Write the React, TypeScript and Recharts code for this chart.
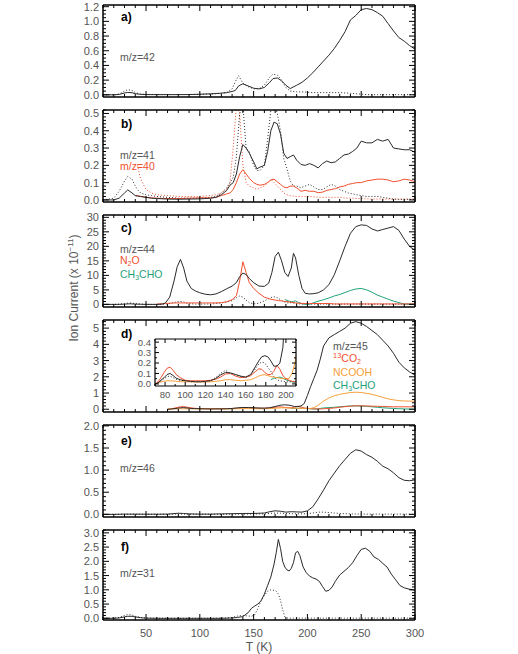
import React from 'react';
import { LineChart, Line, XAxis, YAxis } from 'recharts';

// ---------------- data ----------------
const T_A = [10,20,25,30,33,37,40,45,50,60,70,80,90,100,110,120,125,130,133,136,140,145,150,155,160,165,168,172,176,180,184,190,195,200,205,210,215,220,225,230,235,240,245,250,255,260,265,270,275,280,285,290,295,300];
const A_MZ42 = [0,0,0.005,0.025,0.032,0.028,0.015,0.006,0.003,0.002,0.002,0.002,0.003,0.008,0.013,0.022,0.03,0.045,0.06,0.12,0.15,0.12,0.09,0.08,0.1,0.17,0.22,0.23,0.19,0.13,0.085,0.13,0.17,0.23,0.3,0.38,0.46,0.54,0.63,0.74,0.86,1.02,1.08,1.16,1.175,1.16,1.12,1.07,0.97,0.87,0.78,0.73,0.67,0.62];
const A_MZ42_DOT = [0,0,0.01,0.05,0.07,0.06,0.03,0.01,0.005,0.004,0.004,0.004,0.004,0.005,0.01,0.02,0.03,0.08,0.18,0.26,0.16,0.11,0.08,0.085,0.13,0.24,0.28,0.27,0.2,0.1,0.05,0.04,0.04,0.035,0.03,0.03,0.03,0.03,0.03,0.03,0.025,0.02,0.015,0.008,0.003,0.002,0.002,0.002,0.002,0.002,0.002,0.002,0.002,0.002];

const T_B = [10,20,25,30,33,37,40,42,45,50,55,60,70,80,90,100,110,115,120,125,128,131,134,137,140,143,146,150,153,156,160,163,166,169,172,175,178,181,184,187,190,194,198,202,206,210,214,218,222,226,230,234,238,242,246,250,255,260,265,270,275,280,285,290,295,300];
const B_MZ41 = [0,0,0.01,0.04,0.058,0.04,0.025,0.022,0.02,0.015,0.01,0.008,0.005,0.004,0.005,0.006,0.01,0.015,0.03,0.055,0.085,0.1,0.15,0.25,0.32,0.3,0.27,0.22,0.18,0.19,0.2,0.28,0.4,0.45,0.44,0.38,0.27,0.24,0.25,0.26,0.23,0.205,0.2,0.21,0.2,0.185,0.21,0.225,0.215,0.22,0.24,0.26,0.265,0.28,0.3,0.34,0.33,0.33,0.35,0.34,0.35,0.3,0.295,0.29,0.29,0.275];
const B_MZ41_DOT = [0,0.01,0.05,0.11,0.135,0.12,0.08,0.06,0.04,0.03,0.025,0.02,0.015,0.01,0.01,0.01,0.015,0.02,0.04,0.07,0.1,0.13,0.25,0.5,0.55,0.3,0.28,0.2,0.17,0.17,0.2,0.35,0.52,0.56,0.5,0.4,0.24,0.18,0.11,0.08,0.08,0.07,0.08,0.09,0.075,0.06,0.06,0.075,0.09,0.08,0.06,0.05,0.04,0.035,0.03,0.025,0.02,0.02,0.02,0.015,0.01,0.005,0.003,0.003,0.003,0.003];
const B_MZ40 = [null,null,null,null,null,null,0.025,0.025,0.02,0.015,0.012,0.01,0.008,0.008,0.01,0.012,0.012,0.015,0.025,0.035,0.04,0.06,0.1,0.15,0.175,0.15,0.125,0.1,0.09,0.085,0.09,0.1,0.115,0.12,0.105,0.09,0.075,0.07,0.08,0.08,0.07,0.05,0.055,0.05,0.05,0.042,0.045,0.055,0.06,0.065,0.075,0.08,0.09,0.095,0.1,0.1,0.11,0.115,0.12,0.12,0.115,0.105,0.11,0.12,0.115,0.105];
const B_MZ40_DOT = [null,null,null,null,null,null,null,0.2,0.12,0.06,0.04,0.03,0.025,0.02,0.02,0.02,0.025,0.03,0.04,0.06,0.1,0.3,0.55,0.5,0.2,0.1,0.08,0.07,0.06,0.07,0.08,0.1,0.12,0.1,0.08,0.06,0.04,0.03,0.025,0.022,0.02,0.02,0.02,0.02,0.018,0.016,0.015,0.015,0.015,0.015,0.015,0.012,0.01,0.01,0.008,0.008,0.006,0.005,0.005,0.005,0.005,0.005,0.005,0.005,0.005,0.005];

const T_C = [10,20,25,30,35,40,45,50,60,65,68,72,76,79,82,85,88,92,96,100,105,110,115,120,125,130,134,137,140,143,146,150,155,160,164,167,170,173,176,179,182,185,187,189,192,195,198,202,206,210,215,220,225,230,235,240,245,250,255,260,265,270,275,280,285,290,295,300];
const C_MZ44 = [0,0,0,0.1,0.2,0.1,0.05,0,0,0.1,0.5,2.5,8,13,15.5,12.5,8,5.5,4.6,4,3.5,3.3,3.6,4.4,5.4,6.3,7.5,9.5,10.8,10.3,8.9,7.5,6.3,6.2,7.3,11,16.5,18,15,11,9.6,12.5,17.6,16,10,5.5,3.8,3.6,3.7,4,5,6.8,10.2,15,20,24.5,26.8,27.4,27.2,26,25.3,25.8,26.3,26.8,25.5,22.5,20,18.5];
const C_MZ44_DOT = [0,0,0.1,0.3,0.5,0.3,0.1,0,0,0,0.1,0.3,0.6,0.9,1,0.8,0.4,0.2,0.1,0.1,0.1,0.15,0.3,0.5,0.8,1.3,2.3,2.9,2.5,1.5,0.6,0.15,0.4,1.2,2,2.5,2.6,2.1,1.3,0.8,0.5,0.6,0.5,0.3,0.2,0.1,0.1,0.1,0.1,0.1,0.1,0.1,0.1,0.1,0.1,0.1,0.1,0.1,0.1,0.1,0.1,0.1,0.1,0.1,0.1,0.1,0.1,0.1];
const C_N2O = [null,null,null,null,null,null,null,null,0.1,0.2,0.3,0.4,0.5,0.5,0.5,0.5,0.5,0.5,0.5,0.5,0.5,0.5,0.5,0.6,0.9,1.6,3,8,14.7,11,7.5,5.5,3.8,2.5,2,1.7,1.5,1.3,1.2,1,0.9,0.7,0.6,0.5,0.4,0.35,0.3,0.3,0.3,0.3,0.3,0.3,0.15,0.15,0.15,0.15,0.15,0.15,0.15,0.15,0.15,0.15,0.15,0.15,0.15,0.15,0.15,0.15];
const C_CH3CHO = [null,null,null,null,null,null,null,null,null,null,null,null,null,null,null,null,null,null,null,null,null,null,null,null,null,null,null,null,null,null,null,null,null,null,null,null,null,null,null,1.7,1.2,0.9,1,1.2,0.6,0.2,0.05,0,0.6,1.1,1.6,2.2,2.9,3.4,4.1,4.8,5.3,5.5,5,4.2,3.2,2.5,1.8,1.15,0.6,0.1,0.1,0.1];

const T_D = [70,73,76,79,82,85,88,91,95,100,105,110,115,120,125,130,135,140,145,150,155,160,165,170,173,176,179,182,185,188,191,194,197,200,203,206,209,212,215,220,225,230,235,240,245,250,255,260,265,270,275,280,285,290,295,300];
const D_MZ45 = [0,0.01,0.035,0.06,0.09,0.1,0.08,0.055,0.04,0.03,0.025,0.02,0.02,0.025,0.03,0.05,0.085,0.11,0.105,0.09,0.075,0.065,0.09,0.17,0.22,0.26,0.27,0.26,0.22,0.17,0.17,0.2,0.35,0.85,1.4,1.9,2.4,3.1,3.9,4.4,4.6,4.8,5,5.3,5.4,5.3,5.1,4.85,4.6,4.25,3.9,3.45,2.9,2.55,2.3,2.1];
const D_MZ45_DOT = [0,0.01,0.03,0.05,0.07,0.075,0.06,0.045,0.035,0.03,0.02,0.02,0.02,0.02,0.03,0.06,0.1,0.13,0.1,0.08,0.07,0.06,0.08,0.15,0.19,0.21,0.2,0.16,0.12,0.07,0.04,0.03,0.025,0.02,0.02,0.02,0.02,0.02,0.02,0.02,0.02,0.02,0.02,0.02,0.015,0.01,0.01,0.01,0.01,0.01,0.01,0.01,0.01,0.01,0.01,0.01];
const D_13CO2 = [0,0.02,0.06,0.11,0.15,0.16,0.13,0.09,0.06,0.035,0.03,0.03,0.03,0.03,0.035,0.045,0.065,0.095,0.1,0.075,0.06,0.065,0.08,0.12,0.145,0.14,0.11,0.09,0.09,0.12,0.18,0.14,0.08,0.05,0.035,0.025,0.02,0.02,0.03,0.05,0.08,0.12,0.16,0.19,0.21,0.21,0.2,0.19,0.18,0.17,0.16,0.15,0.15,0.15,0.15,0.15];
const D_NCOOH = [0,0.01,0.02,0.025,0.03,0.03,0.028,0.025,0.022,0.02,0.02,0.02,0.02,0.02,0.02,0.025,0.03,0.04,0.04,0.035,0.03,0.035,0.04,0.06,0.075,0.085,0.087,0.08,0.07,0.065,0.06,0.055,0.05,0.05,0.05,0.1,0.2,0.35,0.5,0.7,0.83,0.92,0.98,1.03,1.05,1.03,0.98,0.92,0.83,0.73,0.64,0.58,0.53,0.51,0.5,0.5];
const D_CH3CHO = [null,null,null,null,null,null,null,null,null,null,null,null,null,null,null,null,null,null,null,null,null,null,null,null,null,null,null,null,0.04,0.055,0.06,0.065,0.055,0.04,0.03,0.02,0.015,0.05,0.08,0.1,0.12,0.15,0.18,0.2,0.21,0.2,0.18,0.15,0.12,0.09,0.07,0.05,0.03,0.02,0.01,0];

const T_E = [10,20,30,40,50,60,70,75,80,85,90,100,110,120,130,140,150,160,165,170,175,180,185,190,195,200,205,210,215,220,225,230,235,240,245,250,255,260,265,270,275,280,285,290,295,300];
const E_MZ46 = [0,0,0.005,0.005,0.003,0.003,0.005,0.015,0.025,0.02,0.01,0.005,0.005,0.01,0.015,0.02,0.02,0.03,0.06,0.08,0.07,0.05,0.06,0.055,0.05,0.08,0.17,0.35,0.55,0.76,0.93,1.1,1.24,1.38,1.46,1.43,1.35,1.29,1.2,1.09,1.03,0.94,0.83,0.77,0.76,0.78];
const E_MZ46_DOT = [0,0,0.003,0.003,0.003,0.003,0.003,0.005,0.008,0.006,0.003,0.003,0.003,0.003,0.005,0.005,0.008,0.01,0.02,0.03,0.025,0.02,0.015,0.01,0.01,0.015,0.03,0.05,0.05,0.04,0.03,0.02,0.015,0.01,0.008,0.005,0.005,0.005,0.005,0.005,0.005,0.005,0.005,0.005,0.005,0.005];

const T_F = [10,20,25,30,33,37,40,45,50,60,80,100,120,130,135,140,145,148,151,154,157,160,163,166,169,171,173,175,177,179,181,183,185,187,189,191,193,196,199,202,205,208,211,214,217,220,223,226,230,234,238,242,246,250,254,258,262,266,270,274,278,282,286,290,295,300];
const F_MZ31 = [0,0,0.01,0.05,0.07,0.07,0.05,0.02,0.005,0,0,0,0,0.01,0.03,0.06,0.2,0.35,0.43,0.5,0.62,0.85,1.15,1.45,1.9,2.3,2.77,2.45,2,1.8,1.7,1.66,1.75,1.95,2.3,2.35,2.2,1.8,1.6,1.48,1.42,1.38,1.3,1.12,0.95,0.98,1.1,1.3,1.52,1.65,1.78,1.95,2.2,2.42,2.46,2.35,2.15,2.07,1.93,1.8,1.55,1.35,1.15,1.07,1.02,0.98];
const F_MZ31_DOT = [0,0.01,0.03,0.1,0.13,0.12,0.07,0.03,0.01,0,0,0,0,0.03,0.08,0.1,0.08,0.07,0.12,0.35,0.62,0.8,0.95,1,0.98,0.95,0.85,0.62,0.3,0.05,0.01,0.005,0.005,0.005,0.005,0.005,0.005,0.005,0.005,0.005,0.005,0.005,0.005,0.005,0.005,0.005,0.005,0.005,0.005,0.005,0.005,0.005,0.005,0.005,0.005,0.005,0.005,0.005,0.005,0.005,0.005,0.005,0.005,0.005,0.005,0.005];

const X_TICK_LABELS = [50, 100, 150, 200, 250, 300];
const INSET_X_TICK_LABELS = [80, 100, 120, 140, 160, 180, 200];

// ---------------- style ----------------
const W = 518;
const H = 654;
const FONT = '"Liberation Sans", Arial, sans-serif';
const BLACK = '#2a2a2a';
const RED = '#f0502e';
const GREEN = '#1fa27a';
const ORANGE = '#f7a03a';
const TXT = '#555';

type Series = { key: string; values: (number | null)[]; color: string; dotted?: boolean };

const isMult = (v: number, step: number) => Math.abs(v / step - Math.round(v / step)) < 1e-6;
const makeTicks = (d: [number, number], step: number) => {
  const out: number[] = [];
  for (let k = Math.ceil(d[0] / step - 1e-9); k * step <= d[1] + 1e-9; k++) out.push(Math.round(k * step * 1e6) / 1e6);
  return out;
};

type FrameProps = {
  left: number; right: number; top: number; bottom: number;
  T: number[]; series: Series[];
  xDomain: [number, number]; xMinor: number; xMajor: number; xLabels?: number[];
  yDomain: [number, number]; yMinor: number; yMajor: number; yDigits: number;
  font: number; majorLen: number; minorLen: number; frameWidth: number; xLabelGap: number;
};

const AX = 1; // thickness reserved for each axis

function Frame(p: FrameProps) {
  const mTop = 4;
  const mBot = p.xLabels ? 26 : 4;
  const plotH = p.bottom - p.top;
  const PT = mTop;
  const PB = mTop + plotH;
  const data = p.T.map((t, i) => {
    const r: any = { T: t };
    p.series.forEach((s) => { r[s.key] = s.values[i]; });
    return r;
  });
  const xTicks = makeTicks(p.xDomain, p.xMinor);
  const yTicks = makeTicks(p.yDomain, p.yMinor);
  const axisLine = { stroke: '#000', strokeWidth: p.frameWidth };
  const labelSet = new Set(p.xLabels || []);

  const bottomTick = (props: any) => {
    const { x, payload } = props;
    const v = payload.value;
    const mj = isMult(v, p.xMajor);
    return (
      <g>
        <line x1={x} x2={x} y1={PB} y2={PB - (mj ? p.majorLen : p.minorLen)} stroke="#000" strokeWidth={1} />
        {labelSet.has(v) && (
          <text x={x} y={PB + p.xLabelGap} textAnchor="middle" fontFamily={FONT} fontSize={p.font} fill={TXT}>{v}</text>
        )}
      </g>
    );
  };
  const topTick = (props: any) => {
    const { x, payload } = props;
    const mj = isMult(payload.value, p.xMajor);
    return <line x1={x} x2={x} y1={PT} y2={PT + (mj ? p.majorLen : p.minorLen)} stroke="#000" strokeWidth={1} />;
  };
  const leftTick = (props: any) => {
    const { y, payload } = props;
    const v = payload.value;
    const mj = isMult(v, p.yMajor);
    return (
      <g>
        <line x1={p.left} x2={p.left + (mj ? p.majorLen : p.minorLen)} y1={y} y2={y} stroke="#000" strokeWidth={1} />
        {mj && (
          <text x={p.left - 4} y={y} dy="0.36em" textAnchor="end" fontFamily={FONT} fontSize={p.font} fill={TXT}>{v.toFixed(p.yDigits)}</text>
        )}
      </g>
    );
  };
  const rightTick = (props: any) => {
    const { y, payload } = props;
    const mj = isMult(payload.value, p.yMajor);
    return <line x1={p.right} x2={p.right - (mj ? p.majorLen : p.minorLen)} y1={y} y2={y} stroke="#000" strokeWidth={1} />;
  };

  return (
    <div style={{ position: 'absolute', left: 0, top: p.top - mTop }}>
      <LineChart width={W} height={mTop + plotH + mBot} data={data}
        margin={{ top: mTop - AX, bottom: mBot - AX, left: p.left - AX, right: W - p.right - AX }}>
        <XAxis xAxisId="b" dataKey="T" type="number" domain={p.xDomain} ticks={xTicks} interval={0}
          height={AX} allowDataOverflow axisLine={axisLine} tickLine={false} tick={bottomTick} />
        <XAxis xAxisId="t" orientation="top" dataKey="T" type="number" domain={p.xDomain} ticks={xTicks} interval={0}
          height={AX} allowDataOverflow axisLine={axisLine} tickLine={false} tick={topTick} />
        <YAxis yAxisId="l" type="number" domain={p.yDomain} ticks={yTicks} interval={0}
          width={AX} allowDataOverflow axisLine={axisLine} tickLine={false} tick={leftTick} />
        <YAxis yAxisId="r" orientation="right" type="number" domain={p.yDomain} ticks={yTicks} interval={0}
          width={AX} allowDataOverflow axisLine={axisLine} tickLine={false} tick={rightTick} />
        {p.series.map((s) => (
          <Line key={s.key} xAxisId="b" yAxisId="l" type="linear" dataKey={s.key} stroke={s.color}
            strokeWidth={1} strokeDasharray={s.dotted ? '1 2' : undefined} dot={false}
            activeDot={false} connectNulls={false} isAnimationActive={false} />
        ))}
      </LineChart>
    </div>
  );
}

const MAIN = {
  left: 103, right: 415, xDomain: [10, 300] as [number, number], xMinor: 10, xMajor: 50,
  font: 11, majorLen: 6, minorLen: 3, frameWidth: 1.5, xLabelGap: 17,
};

const panels: (Omit<FrameProps, keyof typeof MAIN>)[] = [
  { top: 5, bottom: 97, T: T_A, yDomain: [-0.03, 1.223], yMinor: 0.05, yMajor: 0.2, yDigits: 1,
    series: [
      { key: 'a42', values: A_MZ42, color: BLACK },
      { key: 'a42d', values: A_MZ42_DOT, color: BLACK, dotted: true },
    ] },
  { top: 110, bottom: 202, T: T_B, yDomain: [-0.012, 0.52], yMinor: 0.02, yMajor: 0.1, yDigits: 1,
    series: [
      { key: 'b40d', values: B_MZ40_DOT, color: RED, dotted: true },
      { key: 'b41d', values: B_MZ41_DOT, color: BLACK, dotted: true },
      { key: 'b40', values: B_MZ40, color: RED },
      { key: 'b41', values: B_MZ41, color: BLACK },
    ] },
  { top: 215, bottom: 307, T: T_C, yDomain: [-0.9, 30.8], yMinor: 1, yMajor: 5, yDigits: 0,
    series: [
      { key: 'c44d', values: C_MZ44_DOT, color: BLACK, dotted: true },
      { key: 'cch', values: C_CH3CHO, color: GREEN },
      { key: 'cn2o', values: C_N2O, color: RED },
      { key: 'c44', values: C_MZ44, color: BLACK },
    ] },
  { top: 320, bottom: 412, T: T_D, yDomain: [-0.17, 5.5], yMinor: 0.2, yMajor: 1, yDigits: 0,
    series: [
      { key: 'dch', values: D_CH3CHO, color: GREEN },
      { key: 'd13', values: D_13CO2, color: RED },
      { key: 'dnc', values: D_NCOOH, color: ORANGE },
      { key: 'd45', values: D_MZ45, color: BLACK },
    ] },
  { top: 425, bottom: 517, T: T_E, yDomain: [-0.06, 2.02], yMinor: 0.1, yMajor: 0.5, yDigits: 1,
    series: [
      { key: 'e46d', values: E_MZ46_DOT, color: BLACK, dotted: true },
      { key: 'e46', values: E_MZ46, color: BLACK },
    ] },
  { top: 530, bottom: 620, T: T_F, yDomain: [-0.06, 3.1], yMinor: 0.1, yMajor: 0.5, yDigits: 1,
    xLabels: X_TICK_LABELS,
    series: [
      { key: 'f31d', values: F_MZ31_DOT, color: BLACK, dotted: true },
      { key: 'f31', values: F_MZ31, color: BLACK },
    ] },
];

export default function App() {
  const lbl = { fontFamily: FONT, fontSize: 10.5, fill: TXT } as const;
  const letter = { fontFamily: FONT, fontSize: 12, fontWeight: 700, fill: '#000' } as const;
  return (
    <div style={{ position: 'absolute', left: 0, top: 0, width: W, height: H, background: '#fff' }}>
      {panels.map((p, i) => <Frame key={i} {...MAIN} {...p} />)}
      <Frame left={155} right={296} top={339} bottom={386} T={T_D}
        xDomain={[70, 210]} xMinor={10} xMajor={20} xLabels={INSET_X_TICK_LABELS}
        yDomain={[-0.02, 0.43]} yMinor={0.05} yMajor={0.1} yDigits={1}
        font={9.5} majorLen={4} minorLen={2} frameWidth={1.2} xLabelGap={11.5}
        series={[
          { key: 'i45d', values: D_MZ45_DOT, color: BLACK, dotted: true },
          { key: 'ich', values: D_CH3CHO, color: GREEN },
          { key: 'inc', values: D_NCOOH, color: ORANGE },
          { key: 'i13', values: D_13CO2, color: RED },
          { key: 'i45', values: D_MZ45, color: BLACK },
        ]} />
      <svg width={W} height={H} style={{ position: 'absolute', left: 0, top: 0, pointerEvents: 'none' }}>
        <text x={121} y={21} {...letter}>a)</text>
        <text x={120} y={60.5} {...lbl}>m/z=42</text>

        <text x={121} y={127.5} {...letter}>b)</text>
        <text x={120} y={159} {...lbl}>m/z=41</text>
        <text x={120} y={169.5} {...lbl} fill={RED}>m/z=40</text>

        <text x={121} y={231.5} {...letter}>c)</text>
        <text x={120} y={253} {...lbl}>m/z=44</text>
        <text x={120} y={264} {...lbl} fill={RED}>N<tspan dy={2} fontSize={7}>2</tspan><tspan dy={-2}>O</tspan></text>
        <text x={120} y={277.5} {...lbl} fill={GREEN}>CH<tspan dy={2} fontSize={7}>3</tspan><tspan dy={-2}>CHO</tspan></text>

        <text x={121} y={337.5} {...letter}>d)</text>
        <text x={333} y={349.5} {...lbl}>m/z=45</text>
        <text x={333} y={362} {...lbl} fill={RED}><tspan dy={-4} fontSize={7.5}>13</tspan><tspan dy={4}>CO</tspan><tspan dy={2} fontSize={7}>2</tspan></text>
        <text x={333} y={375.5} {...lbl} fill={ORANGE}>NCOOH</text>
        <text x={333} y={389} {...lbl} fill={GREEN}>CH<tspan dy={2} fontSize={7}>3</tspan><tspan dy={-2}>CHO</tspan></text>

        <text x={121} y={445} {...letter}>e)</text>
        <text x={120} y={472} {...lbl}>m/z=46</text>

        <text x={121} y={550.5} {...letter}>f)</text>
        <text x={120} y={576.5} {...lbl}>m/z=31</text>

        <text transform="translate(78,288) rotate(-90)" textAnchor="middle" fontFamily={FONT} fontSize={12} fill={TXT}>
          Ion Current (x 10<tspan dy={-5} fontSize={8}>{'\u2212'}11</tspan><tspan dy={5}>)</tspan>
        </text>
        <text x={259} y={651} textAnchor="middle" fontFamily={FONT} fontSize={12} fill={TXT}>T (K)</text>
      </svg>
    </div>
  );
}
